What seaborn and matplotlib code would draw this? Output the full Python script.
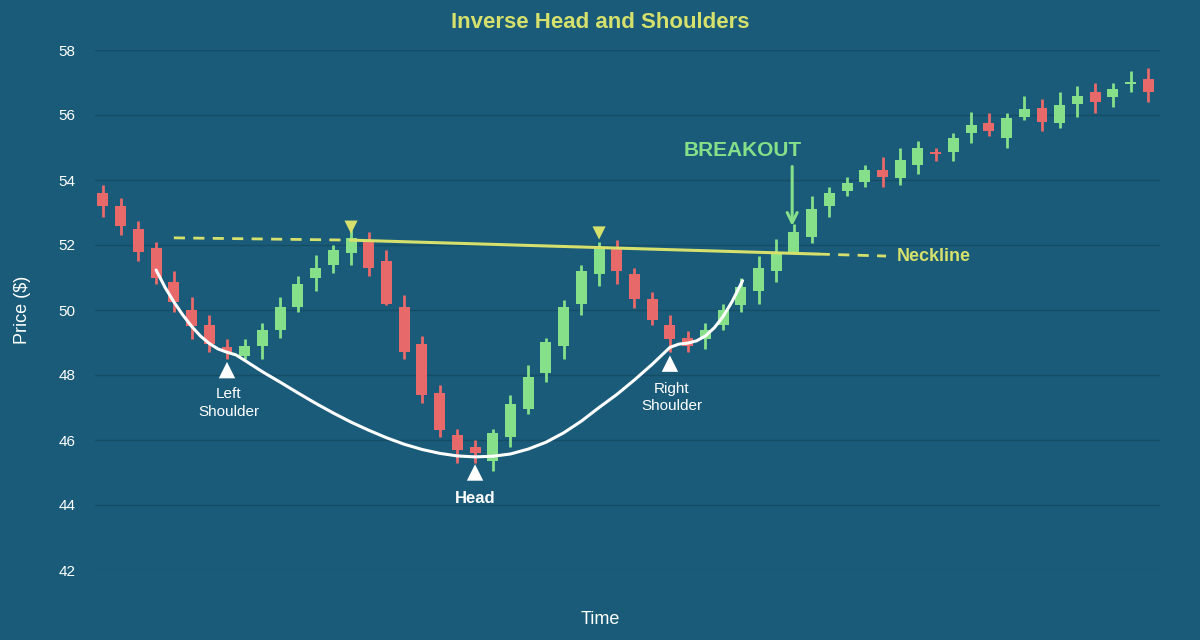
import matplotlib
matplotlib.use("Agg")
import matplotlib.pyplot as plt
import seaborn as sns
import numpy as np
import pandas as pd

opens = [53.6,53.2,52.5,51.9,50.85,50.0,49.55,48.85,48.6,48.9,49.4,50.1,51.0,51.4,51.75,52.1,51.5,50.1,48.95,47.45,
         46.15,45.8,45.35,46.1,46.95,48.05,48.9,50.2,51.1,51.95,51.1,
         50.35,49.55,49.15,49.1,49.55,50.15,50.6,51.2,51.8,52.25,53.2,53.65,53.95,54.3,54.05,54.45,54.85,54.85,
         55.45,55.75,55.3,55.95,56.2,55.75,56.35,56.7,56.55,56.95,57.1]
closes = [53.2,52.6,51.8,51.0,50.25,49.5,48.95,48.7,48.9,49.4,50.1,50.8,51.3,51.85,52.2,51.3,50.2,48.7,47.4,46.3,
          45.7,45.6,46.2,47.1,47.95,49.0,50.1,51.2,51.9,51.2,50.35,
          49.7,49.1,48.9,49.4,50.0,50.7,51.3,51.75,52.4,53.1,53.6,53.9,54.3,54.1,54.6,55.0,54.8,55.3,
          55.7,55.5,55.9,56.2,55.8,56.3,56.6,56.4,56.8,57.0,56.7]
highs = [53.85,53.45,52.75,52.1,51.2,50.4,49.85,49.1,49.1,49.6,50.4,51.05,51.7,52.0,52.45,52.4,51.85,50.45,49.2,47.7,
         46.35,46.0,46.35,47.4,48.3,49.15,50.3,51.4,52.1,52.15,51.3,
         50.55,49.85,49.35,49.6,50.2,51.0,51.65,52.2,52.65,53.5,53.8,54.1,54.45,54.7,55.0,55.2,55.0,55.45,
         56.1,56.05,56.05,56.6,56.5,56.7,56.9,57.0,57.0,57.35,57.45]
lows = [52.85,52.3,51.5,50.8,49.95,49.1,48.7,48.5,48.5,48.5,49.15,49.95,50.6,51.15,51.4,51.05,50.15,48.5,47.15,46.1,
        45.3,45.3,45.05,45.8,46.8,47.8,48.5,49.85,50.75,50.8,50.05,
        49.55,48.7,48.7,48.8,49.4,49.95,50.2,50.85,51.8,52.05,52.85,53.5,53.8,53.8,53.85,54.2,54.6,54.6,
        55.15,55.35,55.0,55.85,55.5,55.6,55.95,56.05,56.25,56.7,56.4]

curve_x = [3.0,3.5,4.0,4.5,5.0,5.5,6.0,6.5,7.0,7.5,8,9,10,11,12,13,14,15,16,17,18,19,20,21,
           22,23,24,25,26,27,28,29,30,31,32,32.5,33,33.5,34,34.5,35,35.5,36.1]
curve_y = [51.23,50.7,50.25,49.85,49.5,49.2,48.97,48.8,48.7,48.62,48.45,48.1,47.78,47.45,47.13,46.83,46.55,46.3,46.07,45.87,45.71,45.59,45.51,45.48,
           45.5,45.57,45.72,45.93,46.22,46.58,47.0,47.4,47.85,48.33,48.85,48.95,48.98,49.05,49.2,49.45,49.8,50.25,50.9]

neck_x = [4.0, 14.0, 40.4, 44.2]
neck_y = [52.22, 52.15, 51.72, 51.66]

peak_idx = [14, 28]
peak_y = [52.55, 52.37]
trough_idx = [7, 21, 32]
trough_y = [48.15, 45.0, 48.35]

BG = "#195b78"
GREEN = "#86e08a"
RED = "#e8696a"
YEL = "#d6e06c"

sns.set_theme(style="dark")
plt.rcParams['font.family'] = ['Liberation Sans', 'DejaVu Sans']

fig = plt.figure(figsize=(12, 6.4), dpi=100, facecolor=BG)
ax = fig.add_axes([95/1200, 70/640, 1065/1200, 520/640])
ax.set_facecolor(BG)

df = pd.DataFrame({"i": np.arange(len(opens)), "o": opens, "c": closes, "h": highs, "l": lows})
df["up"] = df["c"] >= df["o"]
cols = np.where(df["up"], GREEN, RED)
ax.vlines(df["i"], df["l"], df["h"], colors=cols, lw=2, zorder=2)
bottom = np.minimum(df["o"], df["c"])
height = np.maximum(np.abs(df["c"] - df["o"]), 0.06)
ax.bar(df["i"], height, bottom=bottom, width=0.62, color=cols, edgecolor="none", linewidth=0, zorder=3)

# neckline
ax.plot(neck_x[:2], neck_y[:2], color=YEL, lw=2, ls=(0, (4, 3)), zorder=4)
ax.plot(neck_x[1:3], neck_y[1:3], color=YEL, lw=2.2, zorder=4)
ax.plot(neck_x[2:], neck_y[2:], color=YEL, lw=2, ls=(0, (4, 3)), zorder=4)
ax.text(44.8, 51.66, "Neckline", color=YEL, fontsize=13, fontweight="bold", va="center", ha="left")

# curve
sns.lineplot(x=curve_x, y=curve_y, ax=ax, color="white", lw=2.2, sort=False, zorder=5)

sns.scatterplot(x=peak_idx, y=peak_y, ax=ax, marker="v", s=90, color=YEL, edgecolor="none", zorder=6)
sns.scatterplot(x=trough_idx, y=trough_y, ax=ax, marker="^", s=140, color="white", edgecolor="none", zorder=6)
ax.text(7.1, 47.14, "Left\nShoulder", color="white", fontsize=11, ha="center", va="center", linespacing=1.3)
ax.text(21.0, 44.2, "Head", color="white", fontsize=12, fontweight="bold", ha="center", va="center")
ax.text(32.1, 47.3, "Right\nShoulder", color="white", fontsize=11, ha="center", va="center", linespacing=1.3)

ax.text(36.1, 54.92, "BREAKOUT", color=GREEN, fontsize=15, fontweight="bold", ha="center", va="center")
ax.annotate("", xy=(38.9, 52.5), xytext=(38.9, 54.5),
            arrowprops=dict(arrowstyle="->", color=GREEN, lw=2.2, mutation_scale=18))

ax.set_xlim(-0.45, 59.66)
ax.set_ylim(42, 58)
ax.set_yticks(range(42, 59, 2))
ax.set_xticks([])
ax.tick_params(axis="y", colors="white", labelsize=11, length=0, pad=14)
ax.grid(axis="y", color="#154d66", lw=1)
ax.grid(axis="x", visible=False)
for s in ax.spines.values():
    s.set_visible(False)
ax.set_ylabel("Price ($)", color="white", fontsize=13, labelpad=20)
ax.set_xlabel("Time", color="white", fontsize=13)
ax.xaxis.set_label_coords((600 - 95) / 1065, -(611 - 570) / 520)
fig.text(0.5, 1 - 22/640, "Inverse Head and Shoulders", color=YEL, fontsize=16, fontweight="bold", ha="center", va="center")

fig.savefig("out.png", dpi=100, facecolor=BG)
